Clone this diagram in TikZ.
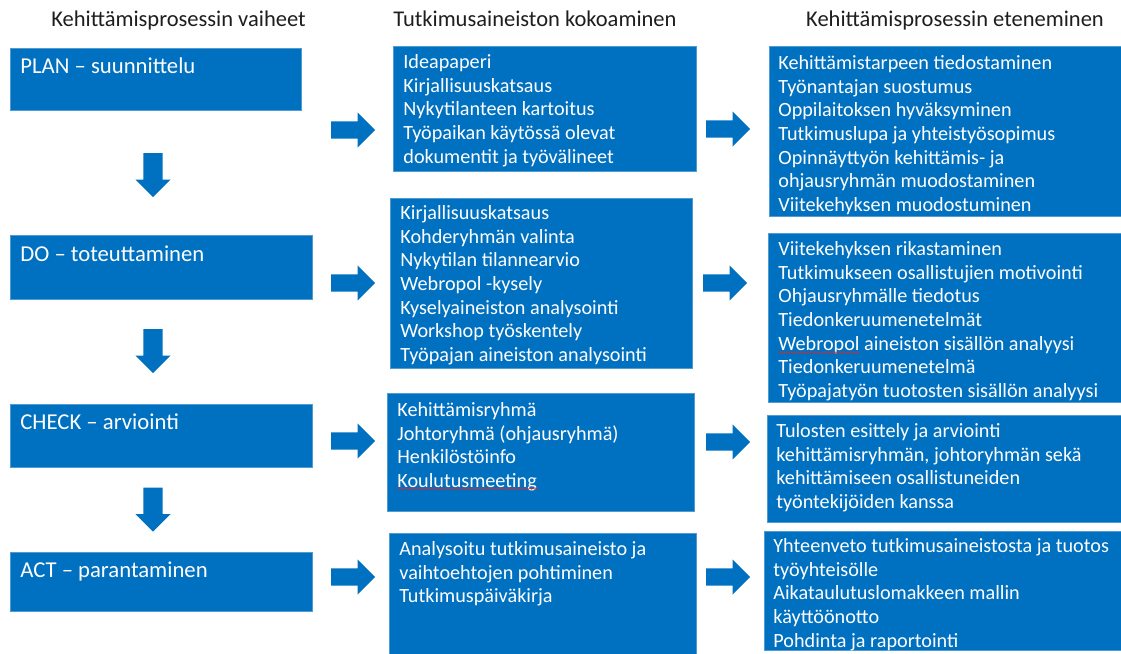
\documentclass[tikz,border=0pt]{standalone}
\usepackage{fontspec}
\setmainfont{Carlito}
\usetikzlibrary{shapes.arrows,decorations.pathmorphing}
\definecolor{boxblue}{RGB}{0,112,192}
\definecolor{edgeblue}{RGB}{80,155,210}
\definecolor{headgray}{RGB}{30,30,30}
\definecolor{spellred}{RGB}{220,40,40}
% width, height, left inset, first baseline, content
\newcommand\btext[5]{\parbox[t][#2pt][t]{#1pt}{\raggedright\leftskip=#3pt\parskip=0pt\rule{0pt}{#4pt}#5}}
\tikzset{
  boxnode/.style={fill=boxblue, draw=edgeblue, line width=0.8pt, inner sep=0pt,
    anchor=north west, text=white, font=\fontsize{20.2}{23.7}\selectfont},
  phasenode/.style={boxnode, font=\fontsize{22.7}{26}\selectfont},
  headnode/.style={anchor=base, text=headgray, inner sep=0pt, font=\fontsize{22.5}{26}\selectfont},
  rarrow/.style={single arrow, fill=boxblue, draw=none, inner sep=0pt,
    text height=17pt, text depth=0pt, text width=0pt,
    minimum height=44pt, minimum width=35pt, single arrow head extend=9pt,
    single arrow tip angle=90, anchor=tail},
  darrow/.style={rarrow, rotate=-90, text height=19pt, single arrow head extend=8pt},
  spellwave/.style={draw=spellred, line width=0.6pt, decorate,
    decoration={snake, amplitude=0.8pt, segment length=3pt}},
}
\begin{document}
\begin{tikzpicture}[x=1pt,y=-1pt]
\useasboundingbox (0,0) rectangle (1121,653);
% headers
\node[headnode] (h1) at (178.5,26.5) {Kehittämisprosessin vaiheet};
\node[headnode] (h2) at (535,26.5) {Tutkimusaineiston kokoaminen};
\node[headnode] (h3) at (955,26.5) {Kehittämisprosessin eteneminen};
% left column
\node[phasenode] (plan) at (10,48) {\btext{291}{62}{10}{25}{PLAN – suunnittelu}};
\node[phasenode] (do) at (10,235) {\btext{302}{64}{10}{26}{DO – toteuttaminen}};
\node[phasenode] (check) at (10,404) {\btext{302}{63}{10}{25}{CHECK – arviointi}};
\node[phasenode] (act) at (10,552) {\btext{302}{59}{10}{25}{ACT – parantaminen}};
% middle column
\node[boxnode] (m1) at (393,46) {\btext{303}{125}{10}{22}{Ideapaperi\\Kirjallisuuskatsaus\\Nykytilanteen kartoitus\\Työpaikan käytössä olevat\\dokumentit ja työvälineet}};
\node[boxnode] (m2) at (390,198) {\btext{302}{170}{10}{21}{Kirjallisuuskatsaus\\Kohderyhmän valinta\\Nykytilan tilannearvio\\Webropol -kysely\\Kyselyaineiston analysointi\\Workshop työskentely\\Työpajan aineiston analysointi}};
\node[boxnode] (m3) at (387,393) {\btext{307}{118}{10}{23}{Kehittämisryhmä\\Johtoryhmä (ohjausryhmä)\\Henkilöstöinfo\\Koulutusmeeting}};
\node[boxnode] (m4) at (389,533) {\btext{307}{124}{10}{22}{Analysoitu tutkimusaineisto ja\\vaihtoehtojen pohtiminen\\Tutkimuspäiväkirja}};
% right column
\node[boxnode] (r1) at (769,46) {\btext{354}{170}{9}{23}{Kehittämistarpeen tiedostaminen\\Työnantajan suostumus\\Oppilaitoksen hyväksyminen\\Tutkimuslupa ja yhteistyösopimus\\Opinnäyttyön kehittämis- ja\\ohjausryhmän muodostaminen\\Viitekehyksen muodostuminen}};
\node[boxnode] (r2) at (768,233) {\btext{355}{169}{10}{22}{Viitekehyksen rikastaminen\\Tutkimukseen osallistujien motivointi\\Ohjausryhmälle tiedotus\\Tiedonkeruumenetelmät\\Webropol aineiston sisällön analyysi\\Tiedonkeruumenetelmä\\Työpajatyön tuotosten sisällön analyysi}};
\node[boxnode] (r3) at (767,415) {\btext{356}{107}{9}{22}{Tulosten esittely ja arviointi\\kehittämisryhmän, johtoryhmän sekä\\kehittämiseen osallistuneiden\\työntekijöiden kanssa}};
\node[boxnode] (r4) at (764,531) {\btext{359}{119}{9}{21}{Yhteenveto tutkimusaineistosta ja tuotos\\työyhteisölle\\Aikataulutuslomakkeen mallin\\käyttöönotto\\Pohdinta ja raportointi}};
% spell-check marks
\draw[spellwave] (397,488.5) -- (538,488.5);
\draw[spellwave] (778,352.5) -- (859,352.5);
% down arrows (placed by their tails)
\node[darrow] (d1) at (153,153) {};
\node[darrow] (d2) at (153,329) {};
\node[darrow] (d3) at (153,487.5) {};
% right arrows, first column
\node[rarrow] (a1) at (331,130) {};
\node[rarrow] (a2) at (331,283) {};
\node[rarrow] (a3) at (331,441) {};
\node[rarrow] (a4) at (331,577) {};
% right arrows, second column
\node[rarrow] (b1) at (706,129) {};
\node[rarrow] (b2) at (703,283) {};
\node[rarrow] (b3) at (706,442) {};
\node[rarrow] (b4) at (706,577) {};
\end{tikzpicture}
\end{document}
